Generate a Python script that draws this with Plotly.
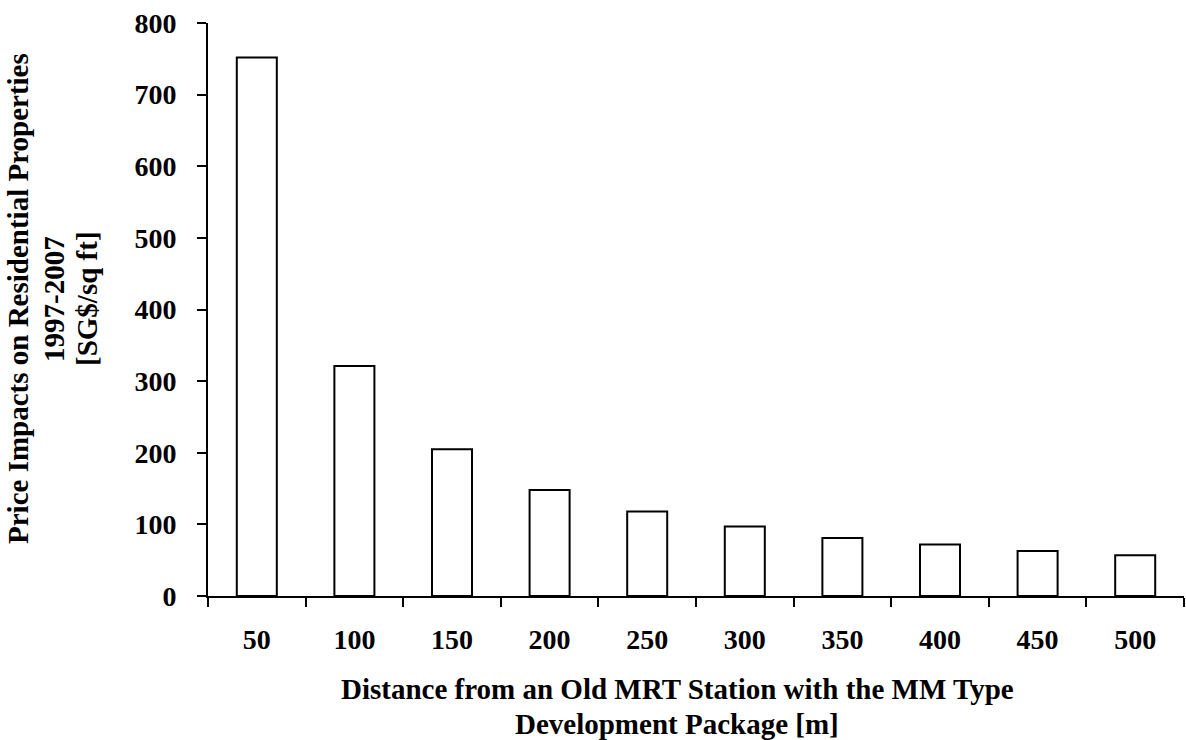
import plotly.graph_objects as go

distances = ["50", "100", "150", "200", "250", "300", "350", "400", "450", "500"]
price_impacts = [752, 321, 205, 148, 118, 97, 81, 72, 63, 57]
y_ticks = [0, 100, 200, 300, 400, 500, 600, 700, 800]

x_title_lines = ["Distance from an Old MRT Station with the MM Type", "Development Package [m]"]
y_title_lines = ["Price Impacts on Residential Properties", "1997-2007", "[SG$/sq ft]"]

FONT = "Liberation Serif"
FS_TICK = 28
FS_TITLE = 29

W, H = 1186, 740
L, R, T, B = 208, 2, 23, 144
PW, PH = W - L - R, H - T - B


def px_to_paper_x(px):
    return (px - L) / PW


def py_to_paper_y(py):
    return (H - B - py) / PH


fig = go.Figure(
    go.Bar(
        x=distances,
        y=price_impacts,
        marker=dict(color="white", line=dict(color="black", width=2)),
        width=0.41,
    )
)

annotations = []
for text, py in zip(x_title_lines, [689, 724]):
    annotations.append(dict(
        text=f"<b>{text}</b>", xref="paper", yref="paper",
        x=px_to_paper_x(677), y=py_to_paper_y(py),
        xanchor="center", yanchor="middle", showarrow=False,
        font=dict(family=FONT, size=FS_TITLE, color="black"),
    ))
for text, px in zip(y_title_lines, [18, 54, 87]):
    annotations.append(dict(
        text=f"<b>{text}</b>", xref="paper", yref="paper",
        x=px_to_paper_x(px), y=py_to_paper_y(299),
        xanchor="center", yanchor="middle", showarrow=False, textangle=-90,
        font=dict(family=FONT, size=FS_TITLE, color="black"),
    ))

fig.update_layout(
    width=W,
    height=H,
    paper_bgcolor="white",
    plot_bgcolor="white",
    margin=dict(l=L, r=R, t=T, b=B),
    font=dict(family=FONT, size=FS_TICK, color="black"),
    showlegend=False,
    annotations=annotations,
)

fig.update_xaxes(
    type="category",
    tickson="boundaries",
    ticks="outside",
    ticklen=9,
    tickwidth=2,
    tickcolor="black",
    showline=True,
    linewidth=2,
    linecolor="black",
    showgrid=False,
    automargin=False,
    tickfont=dict(family=FONT, size=FS_TICK, color="black", weight="bold"),
    ticklabelstandoff=17,
)

fig.update_yaxes(
    range=[0, 800],
    tickvals=y_ticks,
    ticks="outside",
    ticklen=9,
    tickwidth=2,
    tickcolor="black",
    showline=True,
    linewidth=2,
    linecolor="black",
    showgrid=False,
    zeroline=False,
    automargin=False,
    ticklabeloverflow="allow",
    tickfont=dict(family=FONT, size=FS_TICK, color="black", weight="bold"),
    ticklabelstandoff=15,
)

fig.write_html(
    "out.html",
    config={"displayModeBar": False},
    post_script="document.body.style.margin='0';document.body.style.overflow='hidden';",
)
